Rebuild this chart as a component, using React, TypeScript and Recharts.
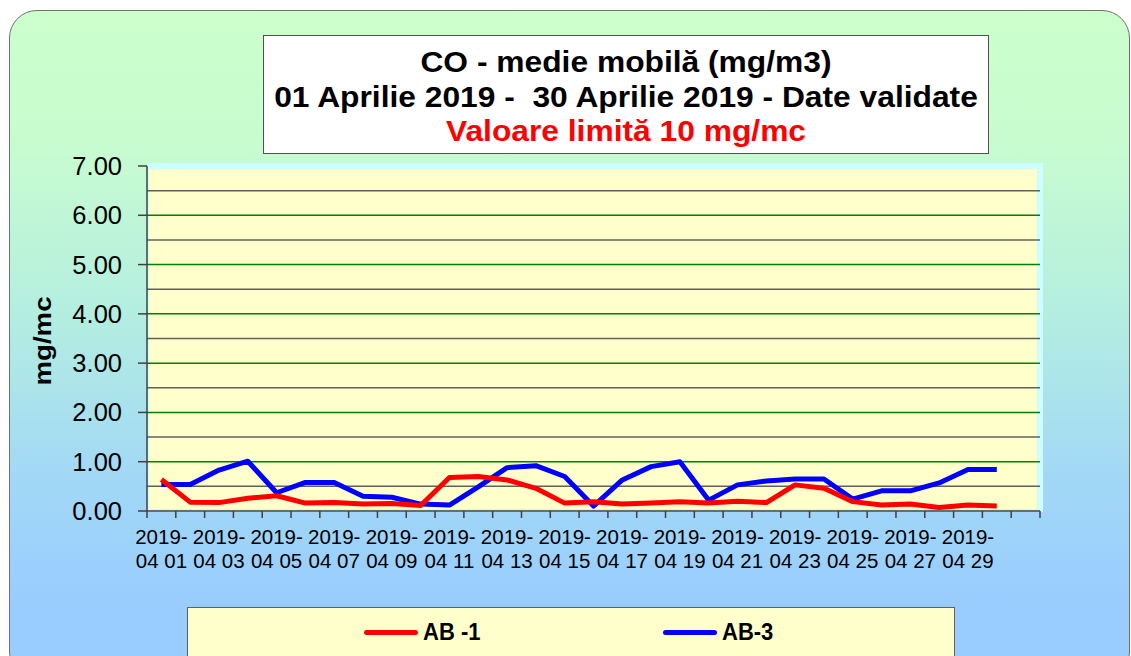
import React from "react";
import { LineChart, Line, XAxis, YAxis, ReferenceLine } from "recharts";

const dates = [
  "2019-04-01", "2019-04-02", "2019-04-03", "2019-04-04", "2019-04-05", "2019-04-06",
  "2019-04-07", "2019-04-08", "2019-04-09", "2019-04-10", "2019-04-11", "2019-04-12",
  "2019-04-13", "2019-04-14", "2019-04-15", "2019-04-16", "2019-04-17", "2019-04-18",
  "2019-04-19", "2019-04-20", "2019-04-21", "2019-04-22", "2019-04-23", "2019-04-24",
  "2019-04-25", "2019-04-26", "2019-04-27", "2019-04-28", "2019-04-29", "2019-04-30",
];
const ab1 = [0.64, 0.18, 0.17, 0.26, 0.31, 0.16, 0.17, 0.14, 0.15, 0.11, 0.68, 0.7, 0.63, 0.46, 0.16,
  0.19, 0.14, 0.16, 0.19, 0.16, 0.2, 0.17, 0.53, 0.46, 0.19, 0.12, 0.14, 0.07, 0.12, 0.1];
const ab3 = [0.54, 0.54, 0.83, 1.01, 0.37, 0.58, 0.58, 0.3, 0.28, 0.14, 0.12, 0.49, 0.88, 0.92, 0.7,
  0.1, 0.63, 0.9, 1.0, 0.22, 0.53, 0.61, 0.65, 0.65, 0.24, 0.41, 0.41, 0.57, 0.84, 0.84];
const slotCount = 31;
const xTicks = Array.from({ length: slotCount + 1 }, (_, i) => i);
const yTicks = [0, 1, 2, 3, 4, 5, 6, 7];
const majorGrid = [1, 2, 3, 4, 5, 6];
const minorGrid = [0.5, 1.5, 2.5, 3.5, 4.5, 5.5, 6.5];
const seriesNames = ["AB -1", "AB-3"];
const seriesColors = ["#ff0000", "#0000ff"];

const data = dates.map((d, i) => ({ x: i + 0.5, date: d, ab1: ab1[i], ab3: ab3[i] }));

const W = 1131;
const H = 656;
const M = { top: 166, right: 91, left: 87, bottom: 105 };
const YW = 60;
const XH = 40;
const PLOT_L = M.left + YW;
const PLOT_W = W - PLOT_L - M.right;
const SLOT = PLOT_W / slotCount;
const FONT = '"Liberation Sans", Arial, sans-serif';

function XTick(props: any) {
  const { x, y, payload } = props;
  const v = payload.value;
  if (v % 2 !== 0 || v >= dates.length) return null;
  const d = dates[v];
  const cx = x + SLOT / 2;
  return (
    <text textAnchor="middle" fill="#000" fontSize={20.5} fontFamily={FONT} style={{ fontSize: "20.5px" }}>
      <tspan x={cx} y={y + 24}>{d.slice(0, 5)}</tspan>
      <tspan x={cx} y={y + 48}>{d.slice(5, 7) + " " + d.slice(8)}</tspan>
    </text>
  );
}

export default function App() {
  return (
    <div style={{ position: "absolute", left: 0, top: 0, width: W, height: H, overflow: "hidden", background: "#fff", fontFamily: FONT }}>
      <div style={{
        position: "absolute", left: 9, top: 10, width: 1121, height: 670, boxSizing: "border-box",
        border: "1.5px solid #707070", borderRadius: 28,
        background: "linear-gradient(to bottom, #ccffcc 0%, #c8fcd0 20%, #b4eee0 45%, #a2d8f6 70%, #99ccff 90%)",
      }} />
      <div style={{ position: "absolute", left: 147, top: 163, width: 896, height: 349, background: "#ccffff" }} />
      <div style={{ position: "absolute", left: 149, top: 169, width: 888, height: 340, background: "#ffffcc" }} />
      <div style={{ position: "absolute", left: 0, top: 0 }}>
        <LineChart width={W} height={H} data={data} margin={M}>
          <XAxis
            type="number"
            dataKey="x"
            domain={[0, slotCount]}
            ticks={xTicks}
            interval={0}
            height={XH}
            tickSize={7}
            axisLine={{ stroke: "#404040", strokeWidth: 1.5 }}
            tickLine={{ stroke: "#404040", strokeWidth: 1.5 }}
            tick={<XTick />}
          />
          <YAxis
            domain={[0, 7]}
            ticks={yTicks}
            interval={0}
            width={YW}
            tickSize={9}
            tickMargin={16}
            axisLine={{ stroke: "#404040", strokeWidth: 1.5 }}
            tickLine={{ stroke: "#404040", strokeWidth: 1.5 }}
            tick={{ fontSize: 25.5, fill: "#000", fontFamily: FONT }}
            tickFormatter={(v: number) => v.toFixed(2)}
          />
          {minorGrid.map((v) => (
            <ReferenceLine key={"m" + v} y={v} stroke="#606060" strokeWidth={1.5} />
          ))}
          {majorGrid.map((v) => (
            <ReferenceLine key={"M" + v} y={v} stroke="#008000" strokeWidth={1.5} />
          ))}
          <Line type="linear" dataKey="ab3" name={seriesNames[1]} stroke={seriesColors[1]} strokeWidth={5} dot={false} isAnimationActive={false} strokeLinejoin="round" />
          <Line type="linear" dataKey="ab1" name={seriesNames[0]} stroke={seriesColors[0]} strokeWidth={5} dot={false} isAnimationActive={false} strokeLinejoin="round" />
        </LineChart>
      </div>
      <div style={{
        position: "absolute", left: 43, top: 341, transform: "translate(-50%,-50%) rotate(-90deg) scaleX(1.15)",
        fontSize: 24, fontWeight: "bold", whiteSpace: "nowrap", color: "#000",
      }}>mg/mc</div>
      <div style={{
        position: "absolute", left: 263, top: 35, width: 726, height: 119, boxSizing: "border-box",
        background: "#fff", border: "1.5px solid #505050",
      }} />
      {[
        { t: "CO - medie mobilă (mg/m3)", y: 62, c: "#000" },
        { t: "01 Aprilie 2019 -  30 Aprilie 2019 - Date validate", y: 97, c: "#000" },
        { t: "Valoare limită 10 mg/mc", y: 131, c: "#ff0000" },
      ].map((l) => (
        <div key={l.t} style={{
          position: "absolute", left: 626, top: l.y, transform: "translate(-50%,-50%) scaleX(1.095)",
          fontSize: 29, fontWeight: "bold", whiteSpace: "pre", color: l.c, lineHeight: "34px",
        }}>{l.t}</div>
      ))}
      <div style={{
        position: "absolute", left: 187, top: 607, width: 768, height: 70, boxSizing: "border-box",
        background: "#ffffcc", border: "1.5px solid #606060",
      }} />
      {[{ x: 364, i: 0 }, { x: 663, i: 1 }].map((it) => (
        <div key={it.i} style={{ position: "absolute", left: it.x, top: 618, height: 28, display: "flex", alignItems: "center" }}>
          <div style={{ width: 54, height: 5, borderRadius: 3, background: seriesColors[it.i] }} />
          <div style={{ marginLeft: 5, fontSize: 22, fontWeight: "bold", color: "#000", transform: "scaleY(1.1)" }}>{seriesNames[it.i]}</div>
        </div>
      ))}
    </div>
  );
}
